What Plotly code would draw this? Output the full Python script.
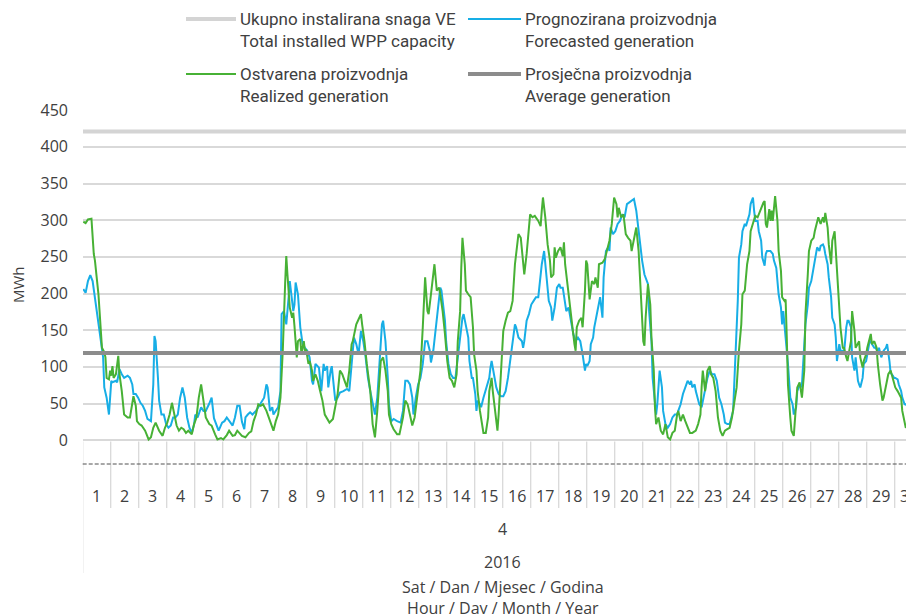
import plotly.graph_objects as go

# ---------------- data ----------------
day_labels = [str(d) for d in range(1, 31)]
month_label = "4"
year_label = "2016"
installed_capacity_mwh = 421
average_generation_mwh = 119

# (hour of month, MWh) - forecasted generation
forecast_points = [
    (0, 206), (2, 201), (4, 217), (6, 225), (8, 217), (10, 195), (13, 163), (15, 135), (17, 113), (18, 72),
    (20, 58), (22, 35), (24, 81), (25, 79), (28, 81), (29, 79), (31, 97), (33, 90), (35, 85), (38, 88),
    (40, 85), (42, 76), (43, 63), (45, 63), (47, 58), (49, 51), (51, 47), (53, 40), (55, 29), (58, 26),
    (60, 76), (61, 142), (62, 135), (64, 85), (65, 54), (67, 35), (69, 35), (71, 22), (73, 17), (75, 20),
    (77, 31), (79, 31), (81, 35), (83, 58), (85, 72), (87, 58), (89, 31), (91, 17), (93, 10), (95, 22),
    (96, 35), (98, 31), (101, 45), (103, 40), (105, 40), (108, 50), (110, 58), (112, 30), (114, 20), (116, 13),
    (119, 24), (121, 26), (123, 31), (125, 26), (128, 20), (130, 31), (132, 47), (134, 47), (136, 25), (138, 15),
    (139, 31), (141, 35), (143, 38), (145, 35), (148, 40), (150, 45), (153, 54), (155, 58), (157, 76), (158, 72),
    (160, 40), (162, 45), (163, 35), (165, 40), (167, 45), (169, 67), (170, 172), (172, 176), (174, 158), (176, 195),
    (177, 217), (180, 176), (181, 185), (182, 215), (184, 199), (186, 154), (188, 131), (190, 126), (192, 122), (194, 113),
    (196, 81), (197, 76), (199, 104), (202, 99), (203, 85), (204, 67), (206, 104), (207, 95), (209, 101), (210, 72),
    (212, 95), (213, 101), (214, 85), (216, 54), (218, 58), (220, 65), (223, 67), (226, 70), (228, 67), (230, 104),
    (232, 140), (234, 131), (236, 117), (238, 149), (240, 135), (242, 113), (244, 85), (246, 67), (248, 49), (250, 35),
    (252, 58), (254, 113), (256, 158), (257, 163), (259, 135), (261, 85), (262, 49), (264, 26), (266, 29), (269, 26),
    (272, 24), (274, 40), (276, 81), (278, 81), (280, 76), (282, 58), (283, 35), (285, 58), (287, 76), (289, 85),
    (291, 104), (293, 135), (295, 135), (297, 122), (298, 106), (300, 122), (302, 154), (304, 185), (306, 208), (307, 204),
    (308, 190), (310, 163), (311, 135), (313, 104), (315, 90), (317, 85), (319, 85), (321, 113), (323, 140), (325, 167),
    (326, 172), (328, 158), (330, 140), (331, 108), (333, 85), (334, 85), (336, 63), (337, 40), (338, 54), (340, 49),
    (341, 45), (343, 58), (344, 63), (346, 76), (348, 85), (349, 99), (350, 108), (352, 90), (354, 72), (356, 63),
    (358, 60), (360, 60), (362, 67), (364, 85), (366, 108), (368, 135), (370, 158), (371, 154), (373, 140), (376, 135),
    (377, 126), (378, 135), (380, 163), (382, 172), (384, 185), (386, 190), (388, 195), (390, 195), (391, 213), (393, 240),
    (395, 258), (397, 222), (399, 190), (401, 181), (402, 163), (404, 181), (406, 208), (408, 213), (409, 208), (411, 208),
    (413, 190), (414, 176), (416, 181), (418, 163), (420, 145), (422, 135), (424, 140), (426, 135), (427, 122), (428, 117),
    (430, 95), (431, 104), (432, 101), (434, 108), (435, 131), (437, 140), (438, 154), (440, 172), (442, 190), (443, 195),
    (445, 167), (446, 222), (448, 258), (450, 263), (451, 258), (452, 290), (454, 281), (456, 285), (458, 295), (460, 299),
    (462, 308), (464, 304), (466, 322), (468, 324), (470, 326), (472, 329), (474, 313), (475, 299), (477, 267), (479, 245),
    (481, 226), (482, 222), (484, 213), (485, 176), (487, 135), (488, 85), (490, 54), (491, 35), (492, 49), (494, 95),
    (496, 72), (497, 40), (499, 22), (501, 17), (503, 22), (505, 31), (507, 35), (509, 35), (510, 40), (512, 49),
    (514, 63), (515, 67), (517, 76), (518, 81), (520, 76), (521, 81), (522, 72), (524, 76), (525, 67), (527, 54),
    (528, 49), (530, 45), (531, 54), (533, 67), (535, 85), (537, 95), (539, 90), (541, 90), (543, 81), (545, 58),
    (547, 49), (549, 35), (550, 24), (552, 22), (554, 22), (557, 40), (558, 76), (560, 131), (561, 190), (562, 249),
    (564, 267), (565, 285), (567, 295), (568, 292), (570, 304), (571, 308), (572, 322), (574, 331), (575, 313), (576, 299),
    (578, 299), (579, 285), (581, 272), (582, 249), (584, 238), (585, 254), (586, 258), (589, 258), (591, 254), (592, 245),
    (594, 235), (595, 213), (596, 199), (598, 181), (599, 158), (600, 176), (601, 154), (602, 140), (604, 104), (605, 76),
    (606, 58), (608, 49), (609, 35), (611, 45), (612, 67), (614, 76), (615, 72), (616, 76), (618, 122), (619, 158),
    (621, 185), (622, 208), (624, 217), (625, 226), (626, 240), (628, 258), (629, 263), (631, 258), (632, 265), (634, 267),
    (635, 263), (636, 254), (638, 240), (639, 222), (641, 195), (642, 167), (644, 158), (645, 140), (646, 108), (648, 131),
    (649, 122), (651, 122), (652, 117), (654, 154), (655, 163), (656, 163), (658, 154), (659, 113), (661, 95), (662, 113),
    (664, 81), (665, 76), (666, 72), (668, 85), (669, 104), (671, 108), (672, 117), (674, 135), (675, 135), (676, 131),
    (678, 126), (679, 126), (681, 122), (682, 126), (684, 113), (685, 117), (686, 122), (688, 126), (689, 131), (691, 108),
    (692, 92), (694, 88), (695, 85), (696, 85), (698, 83), (699, 76), (701, 67), (702, 58), (704, 49), (705, 49),
    (706, 47), (708, 45), (709, 40), (711, 35), (712, 31),
]

# (hour of month, MWh) - realized generation
realized_points = [
    (0, 298), (2, 296), (4, 301), (7, 302), (9, 254), (10, 245), (13, 199), (15, 158), (16, 126), (18, 120),
    (19, 113), (20, 85), (22, 83), (23, 95), (24, 88), (25, 101), (26, 85), (28, 90), (30, 115), (31, 90),
    (33, 67), (35, 35), (38, 31), (40, 31), (41, 40), (43, 60), (45, 47), (46, 26), (48, 22), (50, 20),
    (53, 13), (56, 1), (58, 4), (60, 17), (62, 24), (65, 13), (68, 6), (70, 17), (72, 24), (74, 35),
    (76, 51), (78, 35), (80, 20), (82, 13), (84, 17), (86, 15), (88, 10), (90, 13), (93, 8), (95, 22),
    (97, 31), (99, 58), (101, 76), (103, 54), (105, 31), (108, 22), (110, 20), (113, 8), (115, 1), (118, 3),
    (120, 1), (123, 7), (125, 13), (128, 6), (130, 7), (132, 13), (134, 10), (136, 6), (139, 4), (142, 10),
    (144, 12), (146, 26), (148, 35), (150, 49), (152, 47), (154, 49), (157, 40), (159, 31), (161, 22), (163, 13),
    (165, 26), (167, 35), (169, 58), (171, 122), (173, 213), (174, 251), (175, 226), (177, 181), (179, 167), (180, 174),
    (181, 156), (183, 113), (184, 135), (186, 138), (187, 117), (189, 135), (190, 122), (191, 124), (193, 104), (194, 108),
    (196, 95), (197, 81), (199, 90), (201, 81), (203, 67), (205, 54), (207, 35), (209, 29), (211, 24), (214, 29),
    (216, 49), (218, 63), (220, 95), (222, 90), (224, 81), (226, 72), (228, 95), (230, 131), (231, 135), (234, 158),
    (236, 165), (238, 172), (239, 158), (241, 135), (243, 104), (246, 67), (248, 22), (250, 4), (252, 40), (253, 67),
    (255, 108), (257, 113), (259, 95), (261, 67), (262, 35), (264, 22), (266, 15), (269, 8), (271, 8), (274, 31),
    (276, 54), (278, 49), (280, 35), (282, 20), (284, 31), (286, 55), (288, 80), (289, 95), (291, 154), (293, 222),
    (295, 176), (296, 172), (298, 199), (300, 231), (301, 240), (303, 204), (305, 208), (306, 199), (308, 176), (310, 145),
    (312, 108), (314, 85), (316, 81), (318, 72), (320, 90), (321, 135), (323, 176), (324, 235), (325, 276), (327, 240),
    (328, 204), (330, 199), (332, 195), (334, 154), (335, 117), (337, 95), (338, 67), (340, 40), (342, 22), (343, 10),
    (345, 10), (347, 31), (348, 67), (350, 85), (351, 67), (353, 40), (354, 22), (355, 13), (356, 35), (358, 95),
    (360, 149), (362, 163), (364, 174), (366, 176), (368, 190), (370, 240), (373, 281), (375, 276), (377, 240), (378, 226),
    (380, 254), (382, 295), (383, 308), (385, 304), (387, 306), (390, 299), (392, 292), (393, 313), (394, 331), (396, 304),
    (398, 267), (400, 245), (401, 222), (403, 226), (404, 263), (405, 249), (407, 258), (409, 263), (411, 251), (412, 270),
    (413, 240), (415, 213), (417, 181), (419, 158), (421, 131), (422, 122), (423, 154), (425, 163), (427, 167), (428, 154),
    (430, 204), (431, 245), (432, 240), (433, 213), (434, 192), (436, 217), (438, 213), (439, 222), (441, 208), (442, 240),
    (445, 242), (447, 247), (449, 258), (451, 272), (453, 295), (455, 331), (457, 322), (458, 304), (459, 317), (461, 304),
    (463, 308), (465, 281), (467, 276), (469, 272), (470, 258), (472, 272), (474, 290), (476, 258), (477, 222), (479, 172),
    (480, 135), (481, 129), (482, 167), (484, 213), (486, 185), (487, 140), (489, 95), (490, 45), (491, 22), (493, 31),
    (495, 13), (497, 8), (499, 22), (501, 4), (503, 1), (505, 10), (507, 13), (509, 35), (510, 40), (512, 26),
    (514, 35), (516, 26), (518, 17), (520, 10), (522, 10), (525, 13), (527, 22), (529, 35), (530, 72), (531, 95),
    (533, 67), (535, 95), (537, 101), (538, 90), (540, 85), (542, 67), (544, 31), (546, 13), (548, 6), (550, 13),
    (552, 15), (554, 17), (556, 31), (558, 54), (560, 72), (562, 122), (564, 158), (565, 199), (567, 204), (569, 240),
    (571, 258), (572, 285), (574, 295), (576, 306), (578, 304), (580, 313), (581, 317), (583, 324), (584, 326), (585, 295),
    (586, 290), (588, 315), (589, 299), (590, 313), (591, 299), (593, 333), (595, 299), (596, 258), (598, 231), (599, 195),
    (601, 190), (602, 192), (603, 140), (604, 76), (606, 31), (607, 13), (609, 6), (610, 31), (612, 72), (614, 79),
    (615, 67), (616, 58), (618, 95), (619, 172), (621, 226), (622, 258), (624, 272), (626, 276), (627, 285), (629, 299),
    (630, 304), (632, 295), (634, 304), (635, 297), (636, 310), (638, 290), (639, 267), (641, 240), (642, 272), (644, 285),
    (645, 258), (646, 231), (648, 190), (649, 154), (651, 126), (652, 126), (654, 113), (655, 108), (656, 117), (658, 135),
    (659, 176), (661, 149), (662, 126), (664, 131), (665, 135), (666, 113), (668, 99), (669, 108), (671, 117), (672, 126),
    (674, 140), (675, 145), (676, 131), (678, 135), (680, 126), (681, 104), (683, 76), (685, 54), (686, 58), (688, 76),
    (690, 90), (692, 95), (694, 85), (696, 72), (698, 67), (701, 58), (702, 40), (704, 22), (705, 17), (707, 22),
    (709, 17), (711, 4), (712, 4),
]

forecast_hours = [h for h, v in forecast_points]
forecast_mwh = [v for h, v in forecast_points]
realized_hours = [h for h, v in realized_points]
realized_mwh = [v for h, v in realized_points]
hours_in_month = 24 * len(day_labels)

# ---------------- layout geometry ----------------
# the page adds an 8px body margin, so the figure is laid out 8px up/left
PAGE_OFF = 8
W, H = 914 - PAGE_OFF, 614 - PAGE_OFF
ML, MR, MT = 83 - PAGE_OFF, 0, 110 - PAGE_OFF
MB = H - (443 - PAGE_OFF)
PW = W - ML - MR
PH = H - MT - MB
HOUR_PX = 28.0 / 24.0          # pixels per hour
AXIS_START = 82.7 - PAGE_OFF   # left edge of the first day (figure px)
x_lo = (ML - AXIS_START) / HOUR_PX - 0.5
x_hi = x_lo + PW / HOUR_PX
Y_PX = 330.0 / 450.0
y_hi = 450.3
y_lo = y_hi - PH / Y_PX


def py(p):  # screen pixel row -> paper y
    return (H - MB - (p - PAGE_OFF)) / PH


def pxx(p):  # screen pixel column -> paper x
    return (p - PAGE_OFF - ML) / PW


BLUE = "#17aee6"
GREEN = "#47b135"
LIGHT = "#d9d9d9"
GRAY = "#8c8c8c"
TXT = "#404040"
FONT = "Open Sans, DejaVu Sans, sans-serif"
LEG_FONT = "Liberation Sans Narrow, Roboto, sans-serif"

fig = go.Figure()
fig.add_trace(go.Scatter(x=[x_lo - 1, hours_in_month], y=[installed_capacity_mwh] * 2, mode="lines",
                         line=dict(color="#d4d4d4", width=4), name="Ukupno instalirana snaga VE",
                         showlegend=False, hoverinfo="skip"))
fig.add_trace(go.Scatter(x=forecast_hours, y=forecast_mwh, mode="lines",
                         line=dict(color=BLUE, width=2), name="Prognozirana proizvodnja", showlegend=False))
fig.add_trace(go.Scatter(x=realized_hours, y=realized_mwh, mode="lines",
                         line=dict(color=GREEN, width=2), name="Ostvarena proizvodnja", showlegend=False))
fig.add_trace(go.Scatter(x=[x_lo - 1, hours_in_month], y=[average_generation_mwh] * 2, mode="lines",
                         line=dict(color=GRAY, width=4), name="Prosječna proizvodnja",
                         showlegend=False, hoverinfo="skip"))

shapes = []
annotations = []

# day separators of the category axis
for k in range(len(day_labels)):
    xb = -0.5 + 24 * k
    shapes.append(dict(type="line", xref="x", yref="paper", x0=xb, x1=xb,
                       y0=py(441.5), y1=py(573 if k == 0 else 508),
                       line=dict(color=LIGHT, width=1.3)))
# dashed hour-level line
shapes.append(dict(type="line", xref="paper", yref="paper", x0=pxx(82.7), x1=1,
                   y0=py(464), y1=py(464), line=dict(color="#505050", width=1, dash="4px,2px")))

# day labels
for k, lab in enumerate(day_labels):
    annotations.append(dict(x=24 * k + 11.5, xref="x", y=py(496), yref="paper", text=lab,
                            showarrow=False, font=dict(family=FONT, size=16, color=TXT),
                            xanchor="center", yanchor="middle"))
mid_hour = hours_in_month / 2 - 0.5
for txt, yy in [(month_label, 529), (year_label, 562)]:
    annotations.append(dict(x=mid_hour, xref="x", y=py(yy), yref="paper", text=txt,
                            showarrow=False, xanchor="center", yanchor="middle",
                            font=dict(family=FONT, size=16, color=TXT)))
# x axis title (two lines)
annotations.append(dict(x=mid_hour, xref="x", y=py(597), yref="paper",
                        text="Sat / Dan / Mjesec / Godina<br>Hour / Day / Month / Year",
                        showarrow=False, xanchor="center", yanchor="middle",
                        font=dict(family=FONT, size=16, color=TXT)))
# y axis title
annotations.append(dict(x=pxx(18), xref="paper", y=py(285), yref="paper", text="MWh", textangle=-90,
                        showarrow=False, xanchor="center", yanchor="middle",
                        font=dict(family=FONT, size=15, color=TXT)))

# legend (drawn manually: two columns, two-line labels)
legend_items = [
    ("#d4d4d4", 4, 186, 236, 19, "Ukupno instalirana snaga VE", "Total installed WPP capacity", 238),
    (BLUE, 2, 468, 521, 19, "Prognozirana proizvodnja", "Forecasted generation", 523),
    (GREEN, 2, 186, 236, 74, "Ostvarena proizvodnja", "Realized generation", 238),
    (GRAY, 4, 468, 521, 74, "Prosječna proizvodnja", "Average generation", 523),
]
for col, wid, xa, xb, yy, t1, t2, xt in legend_items:
    shapes.append(dict(type="line", xref="paper", yref="paper", x0=pxx(xa), x1=pxx(xb),
                       y0=py(yy), y1=py(yy), line=dict(color=col, width=wid)))
    annotations.append(dict(x=pxx(xt), xref="paper", y=py(yy), yref="paper", text=t1, showarrow=False,
                            xanchor="left", yanchor="middle", font=dict(family=LEG_FONT, size=17, color=TXT)))
    annotations.append(dict(x=pxx(xt), xref="paper", y=py(yy + 22), yref="paper", text=t2, showarrow=False,
                            xanchor="left", yanchor="middle", font=dict(family=LEG_FONT, size=17, color=TXT)))

fig.update_layout(
    width=W, height=H,
    margin=dict(l=ML, r=MR, t=MT, b=MB, autoexpand=False),
    paper_bgcolor="white", plot_bgcolor="white",
    showlegend=False,
    xaxis=dict(range=[x_lo, x_hi], showgrid=False, zeroline=False, showline=False,
               showticklabels=False, ticks=""),
    yaxis=dict(range=[y_lo, y_hi], tickvals=list(range(0, 451, 50)), showgrid=True,
               gridcolor=LIGHT, gridwidth=1.5, zeroline=False, showline=False, ticks="",
               tickfont=dict(family=FONT, size=16, color=TXT), ticklabelstandoff=14),
    shapes=shapes,
    annotations=annotations,
)

fig.write_html("out.html")
